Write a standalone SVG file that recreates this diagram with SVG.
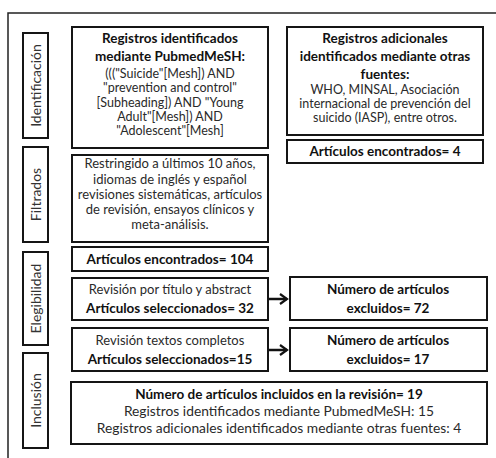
<svg xmlns="http://www.w3.org/2000/svg" width="496" height="458" viewBox="0 0 496 458">
<defs>
<marker id="arr" markerWidth="10" markerHeight="12" refX="8" refY="6" orient="auto" markerUnits="userSpaceOnUse">
<path d="M1,1 L8,6 L1,11" fill="none" stroke="#111" stroke-width="2.2"/>
</marker>
<style>
.frame{fill:none;stroke:#222;stroke-width:1.5}
.box{fill:#fff;stroke:#151515;stroke-width:2}
.lab{fill:#fff;stroke:#151515;stroke-width:2}
text{font-family:Lato,"Liberation Sans",sans-serif;text-anchor:middle;fill:#2a2a2a}
.b{font-weight:bold;fill:#111;font-size:13.5px}
.n{font-size:12.5px}
.m{font-size:13px}
.w{font-size:13.8px}
.lt{font-size:14px;fill:#333}
.conn{fill:none;stroke:#111;stroke-width:2.5}
</style>
</defs>
<rect width="496" height="458" fill="#fff"/>
<path class="frame" d="M8,458 V13 H496"/>

<g id="lab-identificacion"><rect class="lab" x="23" y="33" width="25" height="105"/><text class="lt" transform="translate(40.5,85.5) rotate(-90)">Identificación</text></g>
<g id="lab-filtrados"><rect class="lab" x="23" y="147" width="25" height="95"/><text class="lt" transform="translate(40.5,194.5) rotate(-90)">Filtrados</text></g>
<g id="lab-elegibilidad"><rect class="lab" x="23" y="252" width="25" height="93"/><text class="lt" transform="translate(40.5,298.5) rotate(-90)">Elegibilidad</text></g>
<g id="lab-inclusion"><rect class="lab" x="23" y="353" width="25" height="95"/><text class="lt" transform="translate(40.5,400.5) rotate(-90)">Inclusión</text></g>

<g id="pubmed"><rect class="box" x="72" y="27" width="196" height="121"/>
<text class="b" x="170" y="43">Registros identificados</text>
<text class="b" x="170" y="61">mediante PubmedMeSH:</text>
<text class="n" x="170" y="78">((("Suicide"[Mesh])  AND</text>
<text class="n" x="170" y="92">"prevention  and control"</text>
<text class="n" x="170" y="107">[Subheading]) AND "Young</text>
<text class="n" x="170" y="121">Adult"[Mesh]) AND</text>
<text class="n" x="170" y="135">"Adolescent"[Mesh]</text>
</g>

<g id="otras"><rect class="box" x="287" y="27" width="196" height="108"/>
<text class="b" x="385" y="43">Registros adicionales</text>
<text class="b" x="385" y="61">identificados mediante otras</text>
<text class="b" x="385" y="79">fuentes:</text>
<text class="n" x="385" y="94">WHO, MINSAL, Asociación</text>
<text class="n" x="385" y="108">internacional de prevención del</text>
<text class="n" x="385" y="122">suicido (IASP), entre otros.</text>
</g>

<g id="encontrados4"><rect class="box" x="287" y="140" width="196" height="23"/>
<text class="b" x="385" y="156">Artículos  encontrados= 4</text>
</g>

<g id="filtrados"><rect class="box" x="72" y="155" width="196" height="87"/>
<text class="m" x="170" y="168">Restringido a últimos 10 años,</text>
<text class="m" x="170" y="184">idiomas de inglés y español</text>
<text class="m" x="170" y="199">revisiones  sistemáticas, artículos</text>
<text class="m" x="170" y="214">de revisión, ensayos clínicos y</text>
<text class="m" x="170" y="229">meta-análisis.</text>
</g>

<g id="encontrados104"><rect class="box" x="72" y="247" width="196" height="24"/>
<text class="b" x="170" y="264">Artículos  encontrados= 104</text>
</g>

<g id="titulo"><rect class="box" x="72" y="278" width="196" height="42"/>
<text class="m" x="170" y="294">Revisión por título y abstract</text>
<text class="b" x="170" y="313">Artículos seleccionados= 32</text>
</g>

<g id="excluidos72"><rect class="box" x="290" y="277" width="197" height="43"/>
<text class="b" x="388" y="294">Número de artículos</text>
<text class="b" x="388" y="313">excluidos=  72</text>
</g>

<g id="completos"><rect class="box" x="72" y="328" width="196" height="43"/>
<text class="m" x="170" y="345">Revisión textos completos</text>
<text class="b" x="170" y="364">Artículos seleccionados=15</text>
</g>

<g id="excluidos17"><rect class="box" x="290" y="328" width="197" height="43"/>
<text class="b" x="388" y="345">Número de artículos</text>
<text class="b" x="388" y="364">excluidos=  17</text>
</g>

<g id="incluidos"><rect class="box" x="71" y="382" width="416" height="62"/>
<text class="b" x="279" y="399">Número de artículos incluidos en la revisión= 19</text>
<text class="w" x="279" y="416">Registros identificados mediante PubmedMeSH: 15</text>
<text class="w" x="279" y="433">Registros adicionales identificados mediante otras fuentes: 4</text>
</g>

<g id="connectors">
<path class="conn" d="M269,299 H287" marker-end="url(#arr)"/>
<path class="conn" d="M269,350 H287" marker-end="url(#arr)"/>
</g>
</svg>
